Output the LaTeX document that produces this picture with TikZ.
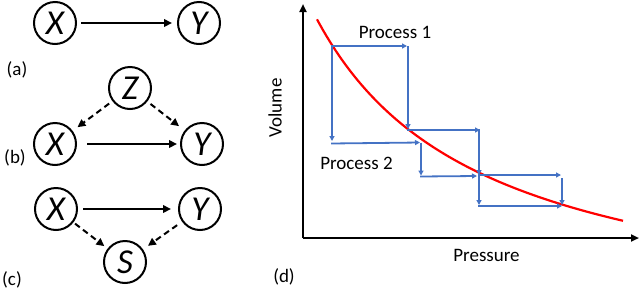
\documentclass[tikz,border=0pt]{standalone}
\usepackage{fontspec}
\setmainfont{Carlito}
\usetikzlibrary{arrows.meta}
\definecolor{pblue}{RGB}{68,114,196}
\definecolor{pred}{RGB}{255,0,0}
\begin{document}
\begin{tikzpicture}[x=1pt,y=-1pt,
  var/.style={circle,draw,line width=2pt,minimum size=42pt,inner sep=0pt,font=\fontsize{35}{40}\selectfont\itshape},
  lbl/.style={font=\fontsize{19}{22}\selectfont,inner sep=0pt},
  cause/.style={line width=2pt,-{Triangle[length=8pt,width=7.5pt]}},
  conf/.style={cause,dash pattern=on 6pt off 4pt},
  flow/.style={pblue,line width=1.8pt,-{Triangle[length=5pt,width=5pt]}},
  axis/.style={black,line width=2pt,-{Triangle[length=8pt,width=7pt]}},
  curve/.style={pred,line width=2.2pt}
]
\useasboundingbox (0,0) rectangle (640,290);
% (a)
\node[var] (Xa) at (55,23) {X};
\node[var] (Ya) at (199,23) {Y};
\draw[cause,shorten <=4pt,shorten >=5pt] (Xa) -- (Ya);
\node[lbl] (la) at (17,70) {(a)};
% (b)
\node[var] (Z) at (130,88) {Z};
\node[var] (Xb) at (55,144) {X};
\node[var] (Yb) at (202,144) {Y};
\draw[cause,shorten <=10pt,shorten >=3pt] (Xb) -- (Yb);
\draw[conf,shorten <=4pt,shorten >=6pt] (Z) -- (Xb);
\draw[conf,shorten <=4pt,shorten >=7pt] (Z) -- (Yb);
\node[lbl] (lb) at (15,158) {(b)};
% (c)
\node[var] (Xc) at (56,209) {X};
\node[var] (Yc) at (200,209) {Y};
\node[var] (S) at (125,262) {S};
\draw[cause,shorten <=5pt,shorten >=7pt] (Xc) -- (Yc);
\draw[conf,shorten <=2pt,shorten >=4pt] (Xc) -- (S);
\draw[conf,shorten <=6pt,shorten >=6pt] (Yc) -- (S);
\node[lbl] (lc) at (12,280) {(c)};
% (d) axes
\coordinate (O) at (303,238);
\coordinate (Vtop) at (303,4);
\coordinate (Pend) at (639,238);
\draw[axis] (O) -- (Vtop);
\draw[axis] (O) -- (Pend);
% red curve
\draw[curve] plot[domain=317:623,samples=100] (\x,{330.7-520/((\x-150)/100)});
% process 1
\draw[flow] (332,46) -- (407,46);
\draw[flow] (408,46) -- (408,129);
\draw[flow] (407.1,130) -- (480,130);
\draw[flow] (479,129.1) -- (479,175);
\draw[flow] (478.1,175) -- (561,175);
\draw[flow] (562,178) -- (562,205);
% process 2
\draw[flow] (332,45.1) -- (332,141);
\draw[flow] (331.1,143.5) -- (420,142.5);
\draw[flow] (421,142.5) -- (421,175.5);
\draw[flow] (420.1,176.5) -- (477,176);
\draw[flow] (479,176) -- (479,205);
\draw[flow] (478.1,206) -- (562,206);
% texts
\node[lbl] (p1) at (395,32) {Process 1};
\node[lbl] (p2) at (356.5,163) {Process 2};
\node[lbl] (px) at (486.5,255) {Pressure};
\node[lbl,rotate=90] (vy) at (275,108) {Volume};
\node[lbl] (ld) at (284,277) {(d)};
\end{tikzpicture}
\end{document}
